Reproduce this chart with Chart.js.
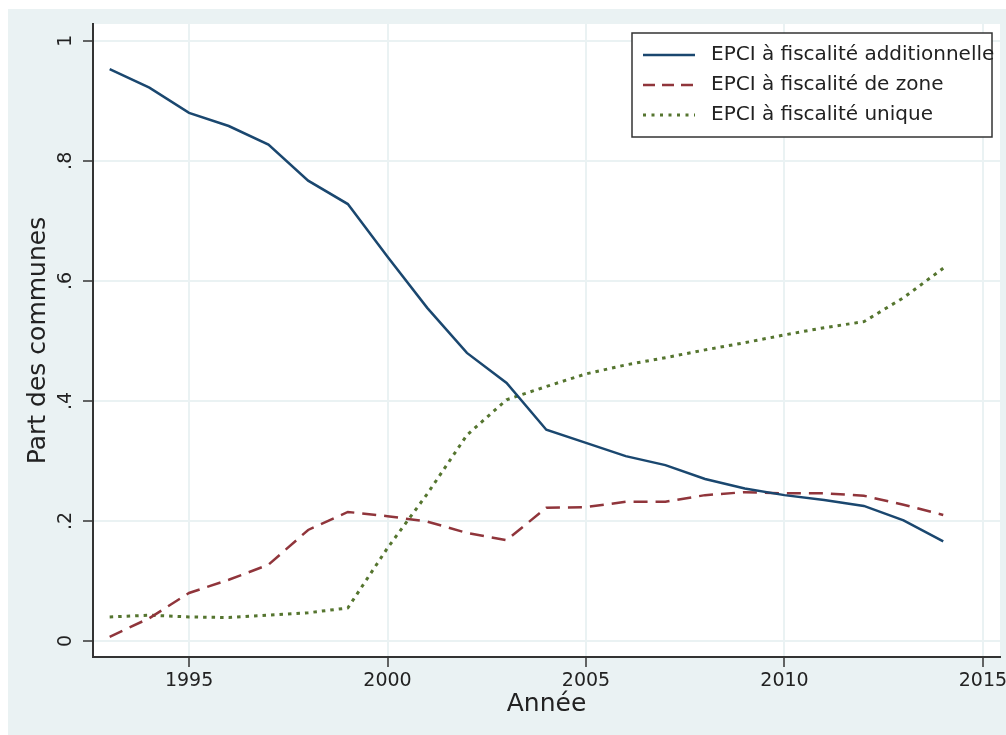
<!DOCTYPE html>
<html>
<head>
<meta charset="utf-8">
<script src="https://cdn.jsdelivr.net/npm/chart.js@4"></script>
<style>
  html, body { margin: 0; padding: 0; background: #fff; }
  canvas { display: block; }
</style>
</head>
<body>
<canvas id="myChart" width="1006" height="735"></canvas>
<script>
var years = [1993, 1994, 1995, 1996, 1997, 1998, 1999, 2000, 2001, 2002, 2003,
             2004, 2005, 2006, 2007, 2008, 2009, 2010, 2011, 2012, 2013, 2014];
var fiscAdditionnelle = [0.953, 0.922, 0.880, 0.858, 0.827, 0.767, 0.728, 0.640, 0.555, 0.480, 0.430,
                         0.352, 0.330, 0.308, 0.293, 0.270, 0.254, 0.243, 0.235, 0.225, 0.201, 0.166];
var fiscZone = [0.007, 0.038, 0.080, 0.102, 0.127, 0.185, 0.215, 0.208, 0.199, 0.180, 0.168,
                0.222, 0.223, 0.232, 0.232, 0.243, 0.248, 0.246, 0.246, 0.242, 0.227, 0.210];
var fiscUnique = [0.040, 0.043, 0.040, 0.039, 0.043, 0.047, 0.055, 0.155, 0.245, 0.343, 0.402,
                  0.424, 0.445, 0.460, 0.472, 0.485, 0.497, 0.510, 0.522, 0.532, 0.572, 0.621];
var seriesLabels = ['EPCI à fiscalité additionnelle', 'EPCI à fiscalité de zone', 'EPCI à fiscalité unique'];
var xTicks = [1995, 2000, 2005, 2010, 2015];
var yTicks = [0, 0.2, 0.4, 0.6, 0.8, 1];
var yTickLabels = ['0', '.2', '.4', '.6', '.8', '1'];

var BG = '#eaf2f3';
var FONT = '"DejaVu Sans", sans-serif';

function toPoints(values) {
    return values.map(function (v, i) { return { x: years[i], y: v }; });
}

// fond gris-bleu façon Stata + zone de tracé blanche
var backgroundPlugin = {
    id: 'stataBackground',
    beforeDraw: function (chart) {
        var c = chart.ctx, a = chart.chartArea;
        c.save();
        c.fillStyle = '#ffffff';
        c.fillRect(0, 0, chart.width, chart.height);
        c.fillStyle = BG;
        c.fillRect(8, 9, chart.width - 8, chart.height - 9);
        c.fillStyle = '#ffffff';
        c.fillRect(a.left, a.top, a.right - a.left, a.bottom - a.top);
        c.restore();
    }
};

// étiquettes de l'axe y tournées (lecture de bas en haut)
var yLabelsPlugin = {
    id: 'rotatedYLabels',
    afterDraw: function (chart) {
        var c = chart.ctx, scale = chart.scales.y;
        c.save();
        c.font = '19px ' + FONT;
        c.fillStyle = '#222';
        c.textAlign = 'center';
        c.textBaseline = 'alphabetic';
        scale.ticks.forEach(function (t, i) {
            c.save();
            c.translate(71, scale.getPixelForValue(t.value));
            c.rotate(-Math.PI / 2);
            c.fillText(yTickLabels[i], 0, 0);
            c.restore();
        });
        c.restore();
    }
};

// légende encadrée dans la zone de tracé
var boxLegendPlugin = {
    id: 'boxLegend',
    afterDraw: function (chart) {
        var c = chart.ctx;
        var x0 = 632, y0 = 33, w = 360, h = 104;
        c.save();
        c.fillStyle = '#fff';
        c.fillRect(x0, y0, w, h);
        c.strokeStyle = '#333';
        c.lineWidth = 1.5;
        c.strokeRect(x0, y0, w, h);
        c.font = '20px ' + FONT;
        c.textBaseline = 'middle';
        c.textAlign = 'left';
        chart.data.datasets.forEach(function (ds, i) {
            var y = 55 + i * 30;
            c.beginPath();
            c.strokeStyle = ds.borderColor;
            c.lineWidth = ds.borderWidth;
            c.setLineDash(ds.legendDash || []);
            c.moveTo(643, y);
            c.lineTo(695, y);
            c.stroke();
            c.setLineDash([]);
            c.fillStyle = '#222';
            c.fillText(ds.label, 711, y);
        });
        c.restore();
    }
};

var ctx = document.getElementById('myChart').getContext('2d');
var myChart = new Chart(ctx, {
    type: 'line',
    data: {
        datasets: [{
            label: seriesLabels[0],
            data: toPoints(fiscAdditionnelle),
            borderColor: '#1a476f',
            borderWidth: 2.5,
            legendDash: []
        }, {
            label: seriesLabels[1],
            data: toPoints(fiscZone),
            borderColor: '#90353b',
            borderWidth: 2.5,
            borderDash: [14, 8],
            legendDash: [12, 7]
        }, {
            label: seriesLabels[2],
            data: toPoints(fiscUnique),
            borderColor: '#55752f',
            borderWidth: 3,
            borderDash: [3.5, 5],
            legendDash: [3, 5.5]
        }]
    },
    options: {
        responsive: false,
        animation: false,
        devicePixelRatio: 1,
        elements: {
            point: { radius: 0 },
            line: { tension: 0, fill: false, borderCapStyle: 'butt' }
        },
        layout: { padding: { left: 0, right: 6, top: 24, bottom: 0 } },
        plugins: {
            legend: { display: false },
            tooltip: { enabled: false }
        },
        scales: {
            x: {
                type: 'linear',
                min: 1992.58,
                max: 2015.43,
                afterBuildTicks: function (scale) {
                    scale.ticks = xTicks.map(function (v) { return { value: v }; });
                },
                afterFit: function (scale) {
                    scale.height = 78;
                    scale.paddingLeft = 0;
                    scale.paddingRight = 0;
                },
                ticks: {
                    color: '#222',
                    padding: 3,
                    maxRotation: 0,
                    font: { family: FONT, size: 19 },
                    callback: function (v) { return String(v); }
                },
                grid: {
                    color: BG,
                    lineWidth: 2,
                    tickLength: 10,
                    tickColor: '#333',
                    tickWidth: 1.5
                },
                border: { display: true, color: '#333', width: 2 },
                title: {
                    display: true,
                    text: 'Année',
                    color: '#222',
                    font: { family: FONT, size: 25 },
                    padding: { top: 0, bottom: 16 }
                }
            },
            y: {
                min: -0.0267,
                max: 1.028,
                afterBuildTicks: function (scale) {
                    scale.ticks = yTicks.map(function (v) { return { value: v }; });
                },
                afterFit: function (scale) {
                    scale.width = 93;
                    scale.paddingTop = 0;
                    scale.paddingBottom = 0;
                },
                ticks: { display: false },
                grid: {
                    color: BG,
                    lineWidth: 2,
                    tickLength: 10,
                    tickColor: '#333',
                    tickWidth: 1.5
                },
                border: { display: true, color: '#333', width: 2 },
                title: {
                    display: true,
                    text: 'Part des communes',
                    color: '#222',
                    font: { family: FONT, size: 25 },
                    padding: { top: 23, bottom: 0 }
                }
            }
        }
    },
    plugins: [backgroundPlugin, yLabelsPlugin, boxLegendPlugin]
});
</script>
</body>
</html>
